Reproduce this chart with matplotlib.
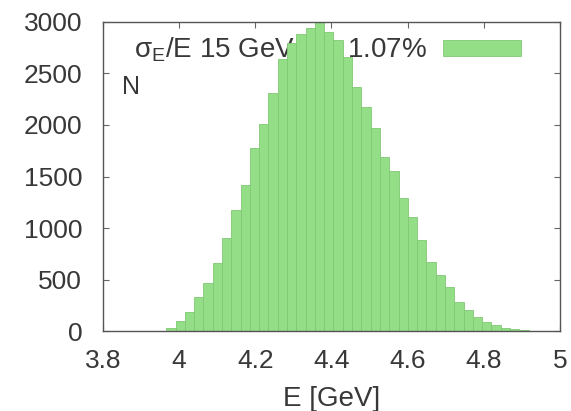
import numpy as np
import matplotlib.pyplot as plt

plt.rcParams['font.family'] = ['Liberation Sans', 'DejaVu Sans']
plt.rcParams['mathtext.fontset'] = 'custom'
plt.rcParams['mathtext.rm'] = 'Liberation Sans'
plt.rcParams['mathtext.it'] = 'Liberation Sans'

# histogram of reconstructed energy, 15 GeV beam
e_first = 3.966   # left edge of the first bin [GeV]
bin_w = 0.0244    # bin width [GeV]
counts = [30, 100, 180, 330, 470, 660, 900, 1170, 1420, 1780,
          2010, 2310, 2640, 2800, 2880, 2940, 3000, 2900, 2830, 2660,
          2370, 2175, 1970, 1690, 1550, 1290, 1105, 885, 670, 545,
          430, 280, 205, 135, 87, 58, 30, 20, 10]
label = 'σ$_\\mathrm{E}$/E 15 GeV       1.07%'

x_ticks = [3.8, 4.0, 4.2, 4.4, 4.6, 4.8, 5.0]
x_labels = ['3.8', '4', '4.2', '4.4', '4.6', '4.8', '5']
y_ticks = [0, 500, 1000, 1500, 2000, 2500, 3000]

edges = e_first + bin_w * np.arange(len(counts))

fig = plt.figure(figsize=(5.71, 4.11), dpi=100)
ax = fig.add_axes([0.1804, 0.1946, 0.8003, 0.7519])

bars = ax.bar(edges, counts, width=bin_w, align='edge',
              color='#95de88', edgecolor='#80c874', linewidth=0.6,
              label=label, zorder=2)

ax.set_xlim(3.8, 5.0)
ax.set_ylim(0, 3000)
ax.set_xticks(x_ticks)
ax.set_xticklabels(x_labels)
ax.set_yticks(y_ticks)

txt = '#383838'
for s in ax.spines.values():
    s.set_color('#555555')
    s.set_linewidth(1.0)
ax.tick_params(direction='in', length=4, width=0.8, color='#666666',
               top=True, right=True, labelsize=19, labelcolor=txt)
ax.tick_params(axis='y', pad=15)
ax.tick_params(axis='x', pad=13)

ax.set_xlabel('E [GeV]', fontsize=20, color=txt, labelpad=9)
ax.text(0.042, 0.79, 'N', transform=ax.transAxes, fontsize=18,
        color=txt, va='center', ha='left')

leg = ax.legend(loc='upper right', frameon=False, markerfirst=False,
                fontsize=20, handlelength=2.8, handleheight=0.55,
                handletextpad=0.6, borderaxespad=0.1,
                bbox_to_anchor=(0.945, 1.0))
for t in leg.get_texts():
    t.set_color(txt)
leg.set_zorder(1)

fig.savefig('out.png', dpi=100)
